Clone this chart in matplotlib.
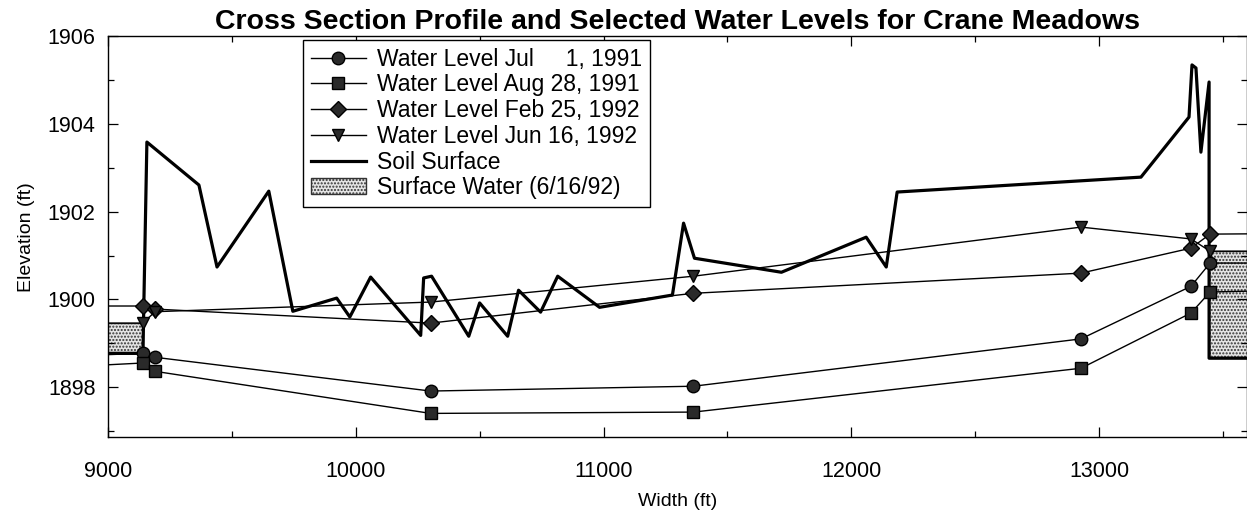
import matplotlib
matplotlib.use("Agg")
import matplotlib.pyplot as plt
from matplotlib.ticker import MultipleLocator
from matplotlib.patches import Patch

# cross-section data (ft)
soil_x = [8900, 9141, 9157, 9367, 9440, 9649, 9746, 9923, 9976, 10060, 10262, 10274, 10306,
          10456, 10500, 10613, 10657, 10746, 10815, 10984, 11278, 11323, 11367, 11718,
          12060, 12141, 12185, 13169, 13363, 13375, 13391, 13411, 13444, 13444, 13700]
soil_y = [1898.77, 1898.77, 1903.59, 1902.61, 1900.74, 1902.47, 1899.73, 1900.03, 1899.60, 1900.51,
          1899.18, 1900.49, 1900.53, 1899.16, 1899.92, 1899.16, 1900.21, 1899.71, 1900.53,
          1899.82, 1900.10, 1901.74, 1900.94, 1900.62, 1901.42, 1900.74, 1902.45, 1902.79,
          1904.16, 1905.35, 1905.28, 1903.36, 1904.96, 1898.66, 1898.66]

well_x = [8900, 9141, 9190, 10302, 11363, 12927, 13371, 13448, 13700]
jul91_y = [1898.72, 1898.77, 1898.68, 1897.91, 1898.02, 1899.10, 1900.30, 1900.83, 1900.83]
aug91_y = [1898.48, 1898.55, 1898.36, 1897.40, 1897.43, 1898.43, 1899.69, 1900.17, 1900.20]
feb92_y = [1899.85, 1899.85, 1899.78, 1899.46, 1900.14, 1900.60, 1901.17, 1901.49, 1901.50]
jun92_y = [1899.46, 1899.46, 1899.72, 1899.94, 1900.53, 1901.65, 1901.38, 1901.10, 1901.10]

# surface water on 6/16/92: (x_left, x_right, bottom, top)
pond_left = (8900, 9141, 1898.77, 1899.46)
pond_right = (13444, 13700, 1898.66, 1901.10)

labels = ["Water Level Jul     1, 1991", "Water Level Aug 28, 1991",
          "Water Level Feb 25, 1992", "Water Level Jun 16, 1992"]
markers = ["o", "s", "D", "v"]

plt.rcParams['font.family'] = ['Liberation Sans', 'DejaVu Sans']

fig = plt.figure(figsize=(12.47, 5.13), dpi=100)
ax = fig.add_axes([0.0866, 0.148, 0.913, 0.781])

for pond in (pond_left, pond_right):
    ax.fill_between([pond[0], pond[1]], pond[2], pond[3], facecolor='#e4e4e4',
                    edgecolor='#333333', hatch='.....', linewidth=1.0, zorder=1)

handles = []
for ys, mk, lab in zip([jul91_y, aug91_y, feb92_y, jun92_y], markers, labels):
    ms = 8 if mk in ("s", "D") else 9
    h, = ax.plot(well_x, ys, color='black', lw=1.0, marker=mk, markersize=ms,
                 markerfacecolor='#2a2a2a', markeredgecolor='black', label=lab, zorder=3)
    handles.append(h)

soil, = ax.plot(soil_x, soil_y, color='black', lw=2.3, label='Soil Surface', zorder=2)
handles.append(soil)

water_patch = Patch(facecolor='#e4e4e4', edgecolor='#333333', hatch='.....',
                    label='Surface Water (6/16/92)')
handles.append(water_patch)

ax.set_xlim(9000, 13595)
ax.set_ylim(1896.86, 1906)
ax.xaxis.set_major_locator(MultipleLocator(1000))
ax.xaxis.set_minor_locator(MultipleLocator(500))
ax.yaxis.set_major_locator(MultipleLocator(2))
ax.yaxis.set_minor_locator(MultipleLocator(1))
ax.tick_params(which='both', direction='in', top=True, right=True, labelsize=15.5)
ax.tick_params(which='major', length=7, width=0.9)
ax.tick_params(which='minor', length=4, width=0.9)
ax.tick_params(axis='x', pad=17)
ax.tick_params(axis='y', pad=9)
for s in ax.spines.values():
    s.set_linewidth(1.0)

ax.set_xlabel('Width (ft)', fontsize=14, labelpad=8)
ax.set_ylabel('Elevation (ft)', fontsize=14, labelpad=9)
ax.set_title('Cross Section Profile and Selected Water Levels for Crane Meadows',
             fontsize=20.5, fontweight='bold', pad=5)

leg = ax.legend(handles=handles, loc='upper left', bbox_to_anchor=(0.171, 0.992),
                fontsize=16.5, frameon=True, fancybox=False, framealpha=1,
                edgecolor='black', handlelength=2.4, labelspacing=0.12,
                borderpad=0.35, handletextpad=0.5, borderaxespad=0)
leg.get_frame().set_linewidth(1.0)

fig.savefig('out.png', dpi=100)
